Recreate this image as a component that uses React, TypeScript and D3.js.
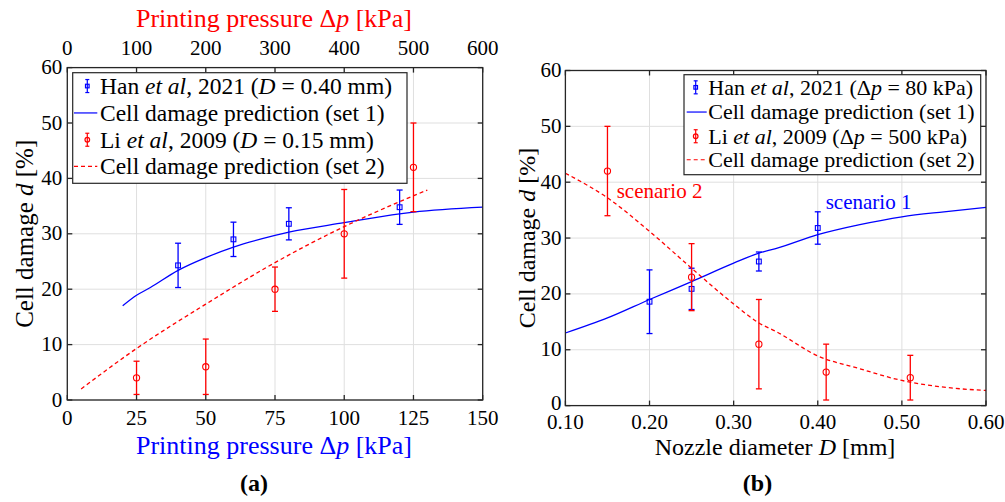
import React from "react";
import * as d3 from "d3";

const FONT = "Liberation Serif";
const BLUE = "#0000ff";
const RED = "#ff0000";
const AX = "#262626";
const GRID = "#dfdfdf";

// ---- tick values ----
const yTicks = [0, 10, 20, 30, 40, 50, 60];
const leftXTicks = [0, 25, 50, 75, 100, 125, 150];
const leftTopTicks = [0, 100, 200, 300, 400, 500, 600];
const rightXTicks = [0.1, 0.2, 0.3, 0.4, 0.5, 0.6];

// ---- panel (a): vs printing pressure ----
const hanP = [40, 60, 80, 120];
const hanPDamage = [24.3, 29.0, 31.8, 34.8];
const hanPErr = [4.0, 3.1, 2.9, 3.1];
const liP = [100, 200, 300, 400, 500]; // kPa (top axis)
const liPDamage = [4, 6, 20, 30, 42];
const liPErr = [3, 5, 4, 8, 8];
const set1P = [20, 25, 30, 40, 50, 60, 75, 80, 100, 120, 125, 150];
const set1PDamage = [17.0, 18.9, 20.3, 23.4, 25.7, 27.6, 29.7, 30.3, 32.0, 33.6, 33.9, 34.8];
const set2P = [20, 100, 200, 300, 400, 480, 520]; // kPa (top axis)
const set2PDamage = [2.0, 9.3, 17.3, 24.8, 31.3, 35.8, 37.9];

// ---- panel (b): vs nozzle diameter ----
const hanD = [0.2, 0.25, 0.33, 0.4];
const hanDDamage = [18.6, 20.9, 25.8, 31.8];
const hanDErr = [5.7, 3.7, 1.7, 2.9];
const liD = [0.15, 0.25, 0.33, 0.41, 0.51];
const liDDamage = [42, 23, 11, 6, 5];
const liDErr = [8, 6, 8, 5, 4];
const setD = [0.1, 0.15, 0.2, 0.25, 0.3, 0.33, 0.35, 0.4, 0.45, 0.5, 0.55, 0.6];
const set1DDamage = [13.0, 15.7, 19.0, 22.2, 25.5, 27.3, 28.1, 30.6, 32.4, 33.8, 34.7, 35.5];
const set2DDamage = [41.6, 37.2, 31.2, 24.6, 18.2, 14.8, 13.3, 8.9, 6.6, 4.5, 3.3, 2.7];

type Seg = { t: string; i?: boolean };
const legendA: Seg[][] = [
  [{ t: "Han " }, { t: "et al", i: true }, { t: ", 2021 (" }, { t: "D", i: true }, { t: " = 0.40 mm)" }],
  [{ t: "Cell damage prediction (set 1)" }],
  [{ t: "Li " }, { t: "et al", i: true }, { t: ", 2009 (" }, { t: "D", i: true }, { t: " = 0.15 mm)" }],
  [{ t: "Cell damage prediction (set 2)" }],
];
const legendB: Seg[][] = [
  [{ t: "Han " }, { t: "et al", i: true }, { t: ", 2021 (Δ" }, { t: "p", i: true }, { t: " = 80 kPa)" }],
  [{ t: "Cell damage prediction (set 1)" }],
  [{ t: "Li " }, { t: "et al", i: true }, { t: ", 2009 (Δ" }, { t: "p", i: true }, { t: " = 500 kPa)" }],
  [{ t: "Cell damage prediction (set 2)" }],
];
const pressureLabel: Seg[] = [{ t: "Printing pressure Δ" }, { t: "p", i: true }, { t: " [kPa]" }];
const damageLabel: Seg[] = [{ t: "Cell damage " }, { t: "d", i: true }, { t: " [%]" }];
const nozzleLabel: Seg[] = [{ t: "Nozzle diameter " }, { t: "D", i: true }, { t: " [mm]" }];

function Rich({ segs, ...rest }: any) {
  return (
    <text fontFamily={FONT} {...rest}>
      {segs.map((s: Seg, k: number) => (
        <tspan key={k} fontFamily={FONT} fontStyle={s.i ? "italic" : "normal"}>
          {s.t}
        </tspan>
      ))}
    </text>
  );
}

function ErrBars({ xs, ys, es, sx, sy, color, marker }: any) {
  return (
    <g>
      {xs.map((xv: number, k: number) => {
        const x = sx(xv);
        const y = sy(ys[k]);
        const y1 = sy(ys[k] + es[k]);
        const y2 = sy(ys[k] - es[k]);
        return (
          <g key={k} stroke={color} strokeWidth={1.3} fill="none">
            <line x1={x} x2={x} y1={y1} y2={y2} />
            <line x1={x - 3} x2={x + 3} y1={y1} y2={y1} />
            <line x1={x - 3} x2={x + 3} y1={y2} y2={y2} />
            {marker === "square" ? (
              <rect x={x - 2.4} y={y - 2.4} width={4.8} height={4.8} fill="none" strokeWidth={1.1} />
            ) : (
              <circle cx={x} cy={y} r={3.1} fill="none" strokeWidth={1.1} />
            )}
          </g>
        );
      })}
    </g>
  );
}

function Frame({ sx, sy, xt, x0, x1, y0, y1 }: any) {
  return (
    <g>
      {xt.map((v: number, k: number) => (
        <line key={"gx" + k} x1={sx(v)} x2={sx(v)} y1={y0} y2={y1} stroke={GRID} strokeWidth={1} />
      ))}
      {yTicks.map((v, k) => (
        <line key={"gy" + k} x1={x0} x2={x1} y1={sy(v)} y2={sy(v)} stroke={GRID} strokeWidth={1} />
      ))}
    </g>
  );
}

function Box({ sx, sy, xt, x0, x1, y0, y1 }: any) {
  const tl = 5;
  return (
    <g stroke={AX} strokeWidth={1.3} fill="none">
      <rect x={x0} y={y1} width={x1 - x0} height={y0 - y1} />
      {xt.map((v: number, k: number) => (
        <g key={"tx" + k}>
          <line x1={sx(v)} x2={sx(v)} y1={y0} y2={y0 - tl} />
          <line x1={sx(v)} x2={sx(v)} y1={y1} y2={y1 + tl} />
        </g>
      ))}
      {yTicks.map((v, k) => (
        <g key={"ty" + k}>
          <line x1={x0} x2={x0 + tl} y1={sy(v)} y2={sy(v)} />
          <line x1={x1} x2={x1 - tl} y1={sy(v)} y2={sy(v)} />
        </g>
      ))}
    </g>
  );
}

function Legend({ x, y, w, h, rows, baselines, symX, lineX0, lineX1, textX, fontSize }: any) {
  const items = ["errB", "lineB", "errR", "lineR"];
  return (
    <g>
      <rect x={x} y={y} width={w} height={h} fill="#fff" stroke={AX} strokeWidth={1.2} />
      {rows.map((segs: Seg[], k: number) => {
        const b = baselines[k];
        const cy = b - fontSize * 0.33;
        const it = items[k];
        return (
          <g key={k}>
            {it === "errB" || it === "errR" ? (
              <g stroke={it === "errB" ? BLUE : RED} strokeWidth={1.2} fill="none">
                <line x1={symX} x2={symX} y1={cy - 6.5} y2={cy + 6.5} />
                <line x1={symX - 2} x2={symX + 2} y1={cy - 6.5} y2={cy - 6.5} />
                <line x1={symX - 2} x2={symX + 2} y1={cy + 6.5} y2={cy + 6.5} />
                {it === "errB" ? (
                  <rect x={symX - 1.8} y={cy - 1.8} width={3.6} height={3.6} />
                ) : (
                  <circle cx={symX} cy={cy} r={2.3} />
                )}
              </g>
            ) : (
              <line
                x1={lineX0}
                x2={lineX1}
                y1={cy}
                y2={cy}
                stroke={it === "lineB" ? BLUE : RED}
                strokeWidth={1.2}
                strokeDasharray={it === "lineR" ? "4,3" : undefined}
              />
            )}
            <Rich segs={segs} x={textX} y={b} fontSize={fontSize} fill="#000" />
          </g>
        );
      })}
    </g>
  );
}

export default function App() {
  // panel (a)
  const aX0 = 67.3, aX1 = 482.7, aY0 = 400, aY1 = 67.6;
  const sxA = d3.scaleLinear().domain([0, 150]).range([aX0, aX1]);
  const sxAtop = d3.scaleLinear().domain([0, 600]).range([aX0, aX1]);
  const syA = d3.scaleLinear().domain([0, 60]).range([aY0, aY1]);

  // panel (b)
  const bX0 = 565.4, bX1 = 986, bY0 = 405.6, bY1 = 70.5;
  const sxB = d3.scaleLinear().domain([0.1, 0.6]).range([bX0, bX1]);
  const syB = d3.scaleLinear().domain([0, 60]).range([bY0, bY1]);

  const lineA1 = d3.line<number>().x((d, i) => sxA(set1P[i])).y((d) => syA(d)).curve(d3.curveMonotoneX)(set1PDamage) || "";
  const lineA2 = d3.line<number>().x((d, i) => sxAtop(set2P[i])).y((d) => syA(d)).curve(d3.curveMonotoneX)(set2PDamage) || "";
  const lineB1 = d3.line<number>().x((d, i) => sxB(setD[i])).y((d) => syB(d)).curve(d3.curveMonotoneX)(set1DDamage) || "";
  const lineB2 = d3.line<number>().x((d, i) => sxB(setD[i])).y((d) => syB(d)).curve(d3.curveMonotoneX)(set2DDamage) || "";

  const tickFs = 21;

  return (
    <svg width={1005} height={502} style={{ position: "absolute", left: 0, top: 0, background: "#fff" }}>
      <rect x={0} y={0} width={1005} height={502} fill="#fff" />

      {/* ===== Panel (a) ===== */}
      <Frame sx={sxA} sy={syA} xt={leftXTicks} x0={aX0} x1={aX1} y0={aY0} y1={aY1} />
      <path d={lineA1} fill="none" stroke={BLUE} strokeWidth={1.3} />
      <path d={lineA2} fill="none" stroke={RED} strokeWidth={1.3} strokeDasharray="4,3" />
      <ErrBars xs={hanP} ys={hanPDamage} es={hanPErr} sx={sxA} sy={syA} color={BLUE} marker="square" />
      <ErrBars xs={liP} ys={liPDamage} es={liPErr} sx={sxAtop} sy={syA} color={RED} marker="circle" />
      <Box sx={sxA} sy={syA} xt={leftXTicks} x0={aX0} x1={aX1} y0={aY0} y1={aY1} />

      {leftXTicks.map((v, k) => (
        <text key={"bx" + k} x={sxA(v)} y={aY0 + 25} textAnchor="middle" fontFamily={FONT} fontSize={tickFs}>
          {v}
        </text>
      ))}
      {leftTopTicks.map((v, k) => (
        <text key={"tx" + k} x={sxAtop(v)} y={aY1 - 12.6} textAnchor="middle" fontFamily={FONT} fontSize={tickFs}>
          {v}
        </text>
      ))}
      {yTicks.map((v, k) => (
        <text key={"ay" + k} x={aX0 - 5} y={syA(v) + 6.5} textAnchor="end" fontFamily={FONT} fontSize={tickFs}>
          {v}
        </text>
      ))}
      <Rich segs={pressureLabel} x={274} y={26.7} textAnchor="middle" fontSize={26} fill={RED} />
      <Rich segs={pressureLabel} x={274} y={454} textAnchor="middle" fontSize={26} fill={BLUE} />
      <Rich segs={damageLabel} transform={`translate(33,${(aY0 + aY1) / 2}) rotate(-90)`} x={0} y={0} textAnchor="middle" fontSize={25} fill="#000" />
      <text x={254} y={491} textAnchor="middle" fontFamily={FONT} fontSize={24} fontWeight="bold">
        (a)
      </text>

      <Legend
        x={72.7}
        y={72.7}
        w={334.3}
        h={110.6}
        rows={legendA}
        baselines={[93.8, 120.7, 147.5, 174.2]}
        symX={87.3}
        lineX0={74}
        lineX1={97.3}
        textX={100}
        fontSize={23.5}
      />

      {/* ===== Panel (b) ===== */}
      <Frame sx={sxB} sy={syB} xt={rightXTicks} x0={bX0} x1={bX1} y0={bY0} y1={bY1} />
      <path d={lineB1} fill="none" stroke={BLUE} strokeWidth={1.3} />
      <path d={lineB2} fill="none" stroke={RED} strokeWidth={1.3} strokeDasharray="4,3" />
      <ErrBars xs={hanD} ys={hanDDamage} es={hanDErr} sx={sxB} sy={syB} color={BLUE} marker="square" />
      <ErrBars xs={liD} ys={liDDamage} es={liDErr} sx={sxB} sy={syB} color={RED} marker="circle" />
      <Box sx={sxB} sy={syB} xt={rightXTicks} x0={bX0} x1={bX1} y0={bY0} y1={bY1} />

      {rightXTicks.map((v, k) => (
        <text key={"rbx" + k} x={sxB(v)} y={bY0 + 23} textAnchor="middle" fontFamily={FONT} fontSize={tickFs}>
          {d3.format(".2f")(v)}
        </text>
      ))}
      {yTicks.map((v, k) => (
        <text key={"by" + k} x={bX0 - 4} y={syB(v) + (v === 0 ? 4.5 : 6.5)} textAnchor="end" fontFamily={FONT} fontSize={tickFs}>
          {v}
        </text>
      ))}
      <Rich segs={nozzleLabel} x={775} y={455} textAnchor="middle" fontSize={24} fill="#000" />
      <Rich segs={damageLabel} transform={`translate(535,${(bY0 + bY1) / 2}) rotate(-90)`} x={0} y={0} textAnchor="middle" fontSize={24} fill="#000" />
      <text x={757.5} y={491} textAnchor="middle" fontFamily={FONT} fontSize={24} fontWeight="bold">
        (b)
      </text>
      <text x={616.7} y={197.7} fontFamily={FONT} fontSize={21} fill={RED}>
        scenario 2
      </text>
      <text x={825.7} y={209} fontFamily={FONT} fontSize={21} fill={BLUE}>
        scenario 1
      </text>

      <Legend
        x={684}
        y={74.7}
        w={296.7}
        h={100}
        rows={legendB}
        baselines={[94.6, 119.3, 143.5, 167]}
        symX={695.7}
        lineX0={686.7}
        lineX1={706.7}
        textX={708.3}
        fontSize={22}
      />
    </svg>
  );
}
